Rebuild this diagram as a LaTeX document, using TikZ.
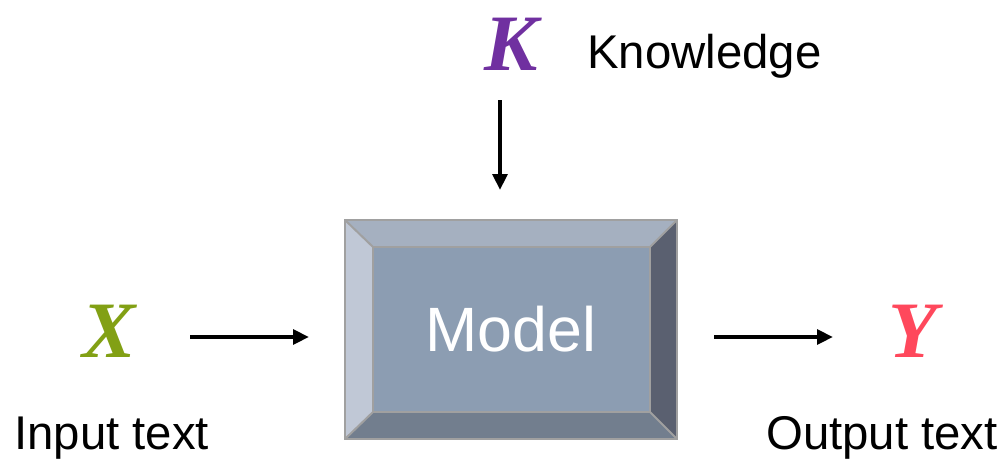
\documentclass[tikz,border=0pt]{standalone}
\usepackage{fontspec}
\setmainfont{Liberation Sans}
\newfontfamily\symfont{Liberation Serif}
\usetikzlibrary{arrows.meta}
\definecolor{kcol}{RGB}{112,48,160}
\definecolor{xcol}{RGB}{130,160,20}
\definecolor{ycol}{RGB}{255,72,92}
\definecolor{bevtop}{RGB}{165,176,192}
\definecolor{bevleft}{RGB}{192,200,214}
\definecolor{bevright}{RGB}{90,96,112}
\definecolor{bevbot}{RGB}{114,126,142}
\definecolor{face}{RGB}{140,157,178}
\definecolor{rim}{RGB}{160,160,160}
\tikzset{
  var/.style={font=\symfont\bfseries\itshape\fontsize{60}{60}\selectfont, inner sep=0pt},
  lbl/.style={font=\fontsize{35.5}{40}\selectfont, inner sep=0pt, anchor=base west},
  flow/.style={-{Triangle[length=12pt,width=11pt]}, line width=3pt, shorten >=0pt},
}
\begin{document}
\begin{tikzpicture}[x=0.75pt,y=-0.75pt]
\useasboundingbox (0,0) rectangle (1003,458);
% bevelled block
\coordinate (o1) at (345,220); \coordinate (o2) at (677,220);
\coordinate (o3) at (677,439); \coordinate (o4) at (345,439);
\coordinate (i1) at (373,247); \coordinate (i2) at (650,247);
\coordinate (i3) at (650,412); \coordinate (i4) at (373,412);
\fill[bevtop] (o1) -- (o2) -- (i2) -- (i1) -- cycle;
\fill[bevright] (o2) -- (o3) -- (i3) -- (i2) -- cycle;
\fill[bevbot] (o3) -- (o4) -- (i4) -- (i3) -- cycle;
\fill[bevleft] (o4) -- (o1) -- (i1) -- (i4) -- cycle;
\fill[face] (i1) rectangle (i3);
\draw[rim, line width=1.5pt] (o1) -- (i1) (o2) -- (i2) (o3) -- (i3) (o4) -- (i4);
\draw[rim, line width=1.5pt] (i1) rectangle (i3);
\draw[rim, line width=2pt] (o1) rectangle (o3);
\node[inner sep=0pt, minimum width=249pt, minimum height=164pt, font=\fontsize{47}{56}\selectfont, text=white] (model) at (511,329.5) {Model};
% variables and labels
\node[var, text=kcol] (K) at (511,44) {K};
\node[lbl] (know) at (587,68) {Knowledge};
\node[var, text=xcol] (X) at (109,331) {X};
\node[lbl] (inp) at (14,449) {Input text};
\node[var, text=ycol] (Y) at (913,331) {Y};
\node[lbl] (outp) at (766,449) {Output text};
% connectors
\coordinate (kend) at (500,190);
\coordinate (kstart) at (500,100);
\draw[flow] (kstart) -- (kend);
\coordinate (xa) at (190,337); \coordinate (xb) at (309,337);
\draw[flow] (xa) -- (xb);
\coordinate (ya) at (714,337); \coordinate (yb) at (833,337);
\draw[flow] (ya) -- (yb);
\end{tikzpicture}
\end{document}
